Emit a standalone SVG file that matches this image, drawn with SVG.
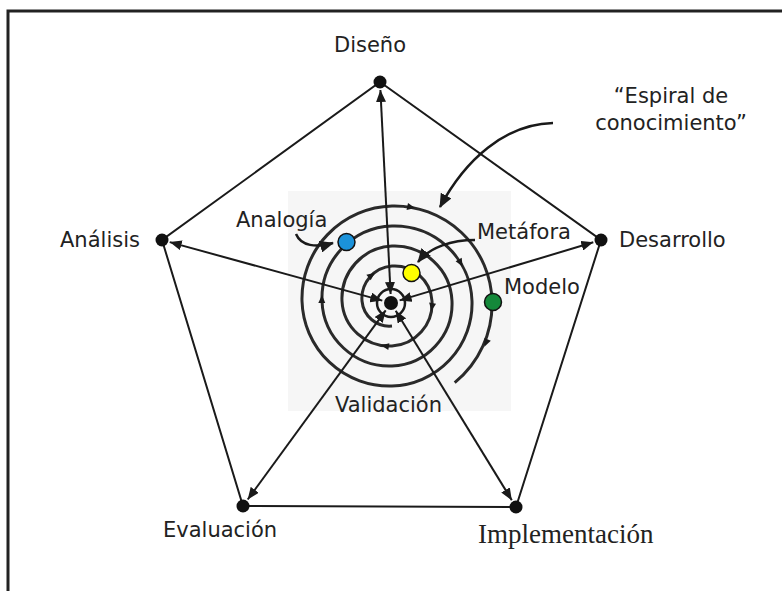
<svg xmlns="http://www.w3.org/2000/svg" width="782" height="591" viewBox="0 0 782 591">
<defs>
<style>
.lbl{font-family:"DejaVu Sans","Verdana",sans-serif;font-size:21px;fill:#222}
.serif{font-family:"Liberation Serif","Times New Roman",serif;font-size:27px;fill:#222}
.edge{stroke:#1a1a1a;stroke-width:2;fill:none}
.spoke{stroke:#1a1a1a;stroke-width:2;fill:none;marker-start:url(#ah);marker-end:url(#ah)}
.spiral{stroke:#2a2a2a;stroke-width:3;fill:none}
.curv{stroke:#1a1a1a;stroke-width:2.5;fill:none;marker-end:url(#ahc)}
.dot{fill:#111}
.sa{fill:#1a1a1a}
</style>
<marker id="ah" viewBox="0 0 12 10" refX="12" refY="5" markerWidth="12" markerHeight="10" markerUnits="userSpaceOnUse" orient="auto-start-reverse">
<path d="M0,0 L12,5 L0,10 Z" fill="#1a1a1a"/>
</marker>
<marker id="ahc" viewBox="0 0 14 12" refX="13" refY="6" markerWidth="14" markerHeight="12" markerUnits="userSpaceOnUse" orient="auto">
<path d="M0,0 L14,6 L0,12 Z" fill="#1a1a1a"/>
</marker>
<path id="sah" d="M4,0 L-4,-3.5 L-4,3.5 Z"/>
</defs>
<rect width="782" height="591" fill="#ffffff"/>
<path d="M8,591 V11 H782" fill="none" stroke="#222" stroke-width="3"/>
<rect x="288" y="191" width="223" height="220" fill="#f6f6f6"/>

<g id="spiral">
<path class="spiral" d="M392,326 A27.5,27.5 0 0 1 362,301 A32.5,32.5 0 0 1 392,266 A37.5,37.5 0 0 1 432,301 A42.5,42.5 0 0 1 392,346 A47.5,47.5 0 0 1 342,301 A52.5,52.5 0 0 1 392,246 A57.5,57.5 0 0 1 452,301 A62.5,62.5 0 0 1 392,366 A67.5,67.5 0 0 1 322,301 A72.5,72.5 0 0 1 392,226 A77.5,77.5 0 0 1 472,301 A82.5,82.5 0 0 1 392,386 A87.5,87.5 0 0 1 302,301 A92.5,92.5 0 0 1 392,206 A97.5,97.5 0 0 1 492,301 A101.5,101.5 0 0 1 454.7,382.7"/>
<use href="#sah" class="sa" transform="translate(411.2,207.3) rotate(11.6)"/>
<use href="#sah" class="sa" transform="translate(460.6,263) rotate(61)"/>
<use href="#sah" class="sa" transform="translate(432,307.1) rotate(98.6)"/>
<use href="#sah" class="sa" transform="translate(321.9,299) rotate(271.6)"/>
<use href="#sah" class="sa" transform="translate(371.7,275.1) rotate(322)"/>
<use href="#sah" class="sa" transform="translate(384.9,346) rotate(189)"/>
<use href="#sah" class="sa" transform="translate(486,343) rotate(114)"/>
</g>

<g id="connectors">
<path class="edge" d="M380,82 L601,240 L516,507 L243,506 L162,240 Z"/>
<line class="spoke" x1="390.6" y1="294" x2="380.4" y2="90"/>
<line class="spoke" x1="382.3" y1="300.6" x2="169.7" y2="242.1"/>
<line class="spoke" x1="399.6" y1="300.4" x2="593.3" y2="242.3"/>
<line class="spoke" x1="385.7" y1="310.3" x2="247.7" y2="499.5"/>
<line class="spoke" x1="395.7" y1="310.7" x2="511.8" y2="500.2"/>
<path class="curv" d="M553,123 C505,124 465,160 440,207"/>
<path class="curv" d="M475,240 C452,240 430,247 418,262"/>
<path class="curv" d="M296,234 C301,246 316,248 333,243"/>
</g>

<g id="centro">
<circle cx="391" cy="303" r="14" fill="none" stroke="#1a1a1a" stroke-width="2.5"/>
<circle class="dot" cx="391" cy="303" r="7"/>
<text class="lbl" x="335" y="412">Validación</text>
</g>

<g id="diseno">
<circle class="dot" cx="380" cy="82" r="6.5"/>
<text class="lbl" x="334" y="52">Diseño</text>
</g>
<g id="desarrollo">
<circle class="dot" cx="601" cy="240" r="6.5"/>
<text class="lbl" x="619" y="247">Desarrollo</text>
</g>
<g id="implementacion">
<circle class="dot" cx="516" cy="507" r="6.5"/>
<text class="serif" x="478" y="543">Implementación</text>
</g>
<g id="evaluacion">
<circle class="dot" cx="243" cy="506" r="6.5"/>
<text class="lbl" x="163" y="537">Evaluación</text>
</g>
<g id="analisis">
<circle class="dot" cx="162" cy="240" r="6.5"/>
<text class="lbl" x="60" y="247">Análisis</text>
</g>

<g id="analogia">
<circle cx="346.5" cy="242" r="8.5" fill="#1b92da" stroke="#111" stroke-width="1.5"/>
<text class="lbl" x="236" y="227">Analogía</text>
</g>
<g id="metafora">
<circle cx="411.5" cy="273" r="8.5" fill="#ffff00" stroke="#111" stroke-width="1.5"/>
<text class="lbl" x="477" y="239">Metáfora</text>
</g>
<g id="modelo">
<circle cx="493" cy="302" r="8.5" fill="#14883a" stroke="#111" stroke-width="1.5"/>
<text class="lbl" x="504" y="294">Modelo</text>
</g>
<g id="espiral">
<text class="lbl" text-anchor="middle"><tspan x="671" y="103">“Espiral de</tspan><tspan x="671" y="130">conocimiento”</tspan></text>
</g>
</svg>
